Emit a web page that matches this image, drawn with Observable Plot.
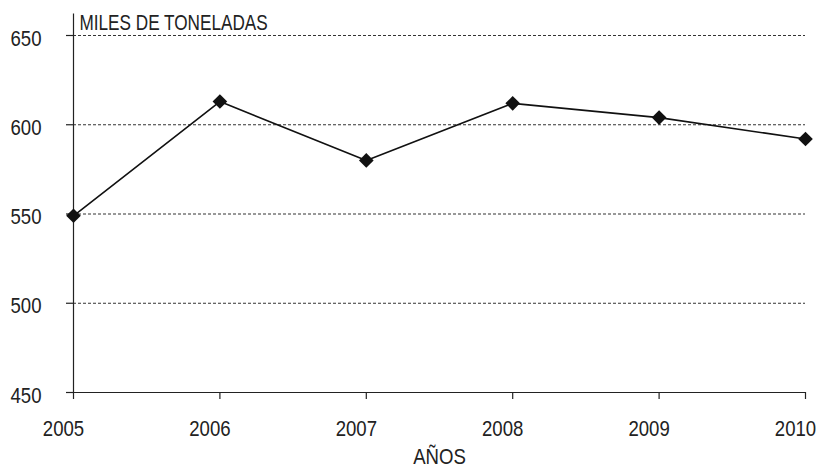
<!DOCTYPE html>
<html><head><meta charset="utf-8">
<script src="https://cdn.jsdelivr.net/npm/d3@7"></script>
<script src="https://cdn.jsdelivr.net/npm/@observablehq/plot@0.6"></script>
<style>body{margin:0;background:#fff;}</style>
</head><body><div id="chart"></div>
<script>
const years = [2005, 2006, 2007, 2008, 2009, 2010];
const values = [549, 613, 580, 612, 604, 592];
const yTicks = [450, 500, 550, 600, 650];
const gridTicks = [500, 550, 600, 650];
const title = "MILES DE TONELADAS";
const xLabel = "AÑOS";
const data = years.map((year, i) => ({year, value: values[i]}));
const font = "'Liberation Sans', Arial, sans-serif";
const chart = Plot.plot({
  width: 819, height: 468,
  marginLeft: 73, marginRight: 14, marginTop: 35, marginBottom: 76,
  style: {fontFamily: font, fontSize: "22px", color: "#222", background: "#fff", overflow: "visible"},
  x: {domain: [2005, 2010]},
  y: {domain: [450, 650]},
  marks: [
    Plot.ruleY(gridTicks, {stroke: "#333", strokeDasharray: "3,2", strokeWidth: 1}),
    Plot.ruleY([450], {stroke: "#222", strokeWidth: 1.2}),
    Plot.ruleX([2005], {y1: 450, y2: 662, stroke: "#222", strokeWidth: 1.2}),
    // tick marks
    Plot.axisY({ticks: yTicks, tickSize: 7, tickFormat: () => "", label: null, stroke: "#222", strokeWidth: 1.2}),
    Plot.axisX({ticks: years, tickSize: 7, tickFormat: () => "", label: null, stroke: "#222", strokeWidth: 1.2}),
    // tick labels
    Plot.axisY({ticks: yTicks, tickSize: 0, tickPadding: 32, dy: 3, label: null, fill: "#222", className: "lbl"}),
    Plot.axisX({ticks: years, tickFormat: d => String(d), tickSize: 0, tickPadding: 28, dx: -10, label: null, fill: "#222"}),
    Plot.line(data, {x: "year", y: "value", stroke: "#111", strokeWidth: 1.6}),
    Plot.dot(data, {x: "year", y: "value", symbol: "diamond2", r: 6.6, fill: "#111", stroke: "none"}),
    Plot.text([title], {frameAnchor: "top-left", dx: 6, dy: -21, textAnchor: "start", lineAnchor: "top", fill: "#222", className: "ttl"}),
    Plot.text([xLabel], {frameAnchor: "bottom", dy: 56, lineAnchor: "top", fill: "#222"})
  ]
});
document.getElementById("chart").appendChild(chart);
// condense glyphs horizontally to mimic a narrow typeface
d3.select(chart).selectAll("text").each(function() {
  const w = this.getComputedTextLength();
  if (w > 0) {
    const isTitle = this.textContent === title;
    this.setAttribute("textLength", (w * (isTitle ? 0.78 : 0.845)).toFixed(2));
    this.setAttribute("lengthAdjust", "spacingAndGlyphs");
  }
});
</script>
</body></html>
